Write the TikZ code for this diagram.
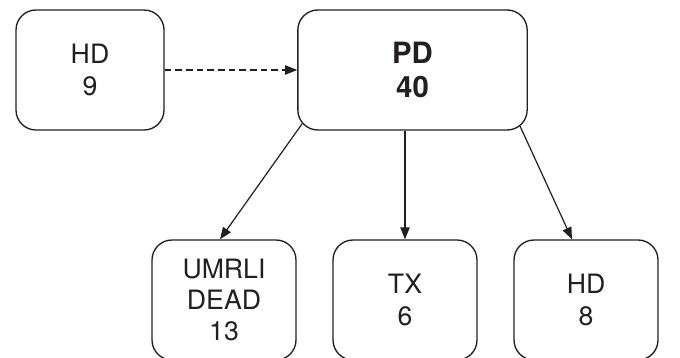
\documentclass[tikz,border=0pt]{standalone}
\usepackage{fontspec}
\setmainfont{TeX Gyre Heros}
\usetikzlibrary{arrows.meta,calc}
\definecolor{ink}{HTML}{231F20}
\begin{document}
\begin{tikzpicture}[x=0.75pt,y=-0.75pt,
  box/.style={draw=ink,line width=1pt,rounded corners=15pt,align=center,
    inner sep=0pt,text=ink,font=\fontsize{20}{24}\selectfont},
  arr/.style={draw=ink,line width=0.9pt,-{Triangle[length=9pt,width=7pt]}}]
\clip (0,0) rectangle (680,357);
\useasboundingbox (0,0) rectangle (680,357);
\node[box,minimum width=111pt,minimum height=90pt] (hd9) at (90,70) {HD\\9};
\node[box,minimum width=172pt,minimum height=90pt,font=\bfseries\fontsize{22}{26}\selectfont] (pd) at (412.5,70) {PD\\40};
\node[box,minimum width=108pt,minimum height=90pt,font=\fontsize{20}{23.5}\selectfont] (um) at (224,300) {UMRLI\\DEAD\\13};
\node[box,minimum width=108pt,minimum height=90pt] (tx) at (405,300) {TX\\6};
\node[box,minimum width=108pt,minimum height=90pt] (hd8) at (586,300) {HD\\8};
\draw[arr,dash pattern=on 5pt off 3pt] (hd9.east) -- (pd.west);
\draw[arr] ($(pd.south west)+(5,-7)$) -- ($(um.north)+(-4,0)$);
\draw[arr] (pd.south -| tx.north) -- (tx.north);
\draw[arr] ($(pd.south east)+(-8,-5)$) -- ($(hd8.north)+(-14,0)$);
\end{tikzpicture}
\end{document}
